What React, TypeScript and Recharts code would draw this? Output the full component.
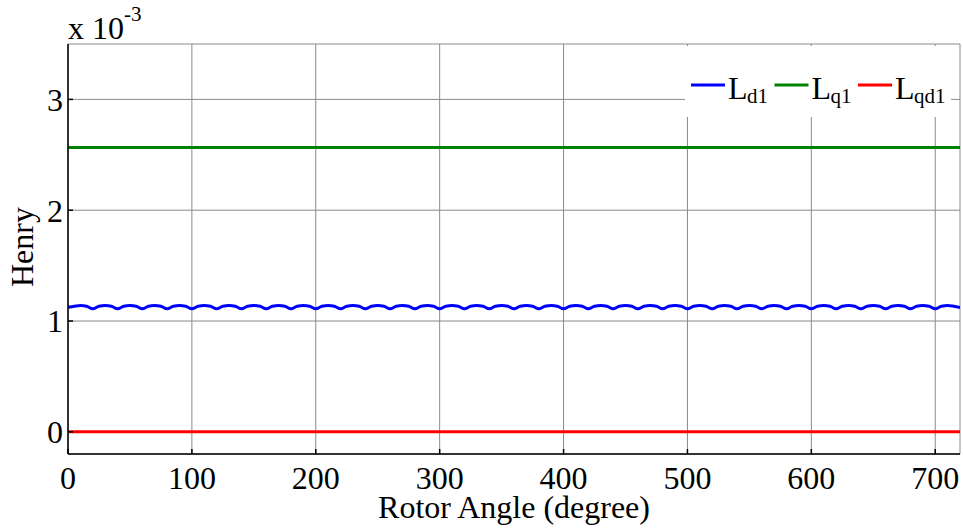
import React from 'react';
import { LineChart, Line, XAxis, YAxis, CartesianGrid, Legend, Label } from 'recharts';

// Rotor angle samples (degree) for L_d1
const ldAngles = [
  0, 5, 10, 15, 20, 25, 30, 35, 40, 45, 50, 55, 60, 65, 70, 75, 80, 85, 90, 95,
  100, 105, 110, 115, 120, 125, 130, 135, 140, 145, 150, 155, 160, 165, 170, 175, 180, 185, 190, 195,
  200, 205, 210, 215, 220, 225, 230, 235, 240, 245, 250, 255, 260, 265, 270, 275, 280, 285, 290, 295,
  300, 305, 310, 315, 320, 325, 330, 335, 340, 345, 350, 355, 360, 365, 370, 375, 380, 385, 390, 395,
  400, 405, 410, 415, 420, 425, 430, 435, 440, 445, 450, 455, 460, 465, 470, 475, 480, 485, 490, 495,
  500, 505, 510, 515, 520, 525, 530, 535, 540, 545, 550, 555, 560, 565, 570, 575, 580, 585, 590, 595,
  600, 605, 610, 615, 620, 625, 630, 635, 640, 645, 650, 655, 660, 665, 670, 675, 680, 685, 690, 695,
  700, 705, 710, 715, 720,
];
// L_d1 values (x 10^-3 Henry)
const ldValues = [
  1.124, 1.133, 1.140, 1.133, 1.110, 1.133, 1.140, 1.133, 1.110, 1.133, 1.140, 1.133, 1.110, 1.133, 1.140, 1.133, 1.110, 1.133, 1.140, 1.133,
  1.110, 1.133, 1.140, 1.133, 1.110, 1.133, 1.140, 1.133, 1.110, 1.133, 1.140, 1.133, 1.110, 1.133, 1.140, 1.133, 1.110, 1.133, 1.140, 1.133,
  1.110, 1.133, 1.140, 1.133, 1.110, 1.133, 1.140, 1.133, 1.110, 1.133, 1.140, 1.133, 1.110, 1.133, 1.140, 1.133, 1.110, 1.133, 1.140, 1.133,
  1.110, 1.133, 1.140, 1.133, 1.110, 1.133, 1.140, 1.133, 1.110, 1.133, 1.140, 1.133, 1.110, 1.133, 1.140, 1.133, 1.110, 1.133, 1.140, 1.133,
  1.110, 1.133, 1.140, 1.133, 1.110, 1.133, 1.140, 1.133, 1.110, 1.133, 1.140, 1.133, 1.110, 1.133, 1.140, 1.133, 1.110, 1.133, 1.140, 1.133,
  1.110, 1.133, 1.140, 1.133, 1.110, 1.133, 1.140, 1.133, 1.110, 1.133, 1.140, 1.133, 1.110, 1.133, 1.140, 1.133, 1.110, 1.133, 1.140, 1.133,
  1.110, 1.133, 1.140, 1.133, 1.110, 1.133, 1.140, 1.133, 1.110, 1.133, 1.140, 1.133, 1.110, 1.133, 1.140, 1.133, 1.110, 1.133, 1.140, 1.133,
  1.110, 1.133, 1.140, 1.133, 1.122,
];
// L_q1 and L_qd1 are flat over the whole range
const flatAngles = [0, 720];
const lqValues = [2.565, 2.565];
const lqdValues = [0, 0];

const xTicks = [0, 100, 200, 300, 400, 500, 600, 700];
const yTicks = [0, 1, 2, 3];
const seriesMain = ['L', 'L', 'L'];
const seriesSub = ['d1', 'q1', 'qd1'];
const seriesColors = ['#0000ff', '#008000', '#ff0000'];

const FONT = "'Liberation Serif', 'Times New Roman', serif";

const ldData = ldAngles.map((a, i) => ({ angle: a, v: ldValues[i] }));
const lqData = flatAngles.map((a, i) => ({ angle: a, v: lqValues[i] }));
const lqdData = flatAngles.map((a, i) => ({ angle: a, v: lqdValues[i] }));

const renderLegend = (props: any) => {
  const payload = props.payload || [];
  return (
    <div style={{ background: '#fff', width: 266, height: 71 }}>
      <svg width={266} height={71} style={{ display: 'block' }}>
        {payload.map((p: any, i: number) => {
          const ox = i * 83.5;
          const idx = seriesSub.indexOf(String(p.value).split('_')[1]);
          return (
            <g key={i}>
              <line x1={ox + 6} x2={ox + 40} y1={39} y2={39} stroke={p.color} strokeWidth={3} />
              <text x={ox + 43} y={53} fontFamily={FONT} fontSize={32} fill="#000">
                {seriesMain[idx]}
              </text>
              <text x={ox + 62} y={57} fontFamily={FONT} fontSize={21} fill="#000">
                {seriesSub[idx]}
              </text>
            </g>
          );
        })}
      </svg>
    </div>
  );
};

const yLabel = () => (
  <g>
    <text
      x={33}
      y={247}
      transform="rotate(-90, 33, 247)"
      textAnchor="middle"
      fontFamily={FONT}
      fontSize={32}
      fill="#000"
    >
      Henry
    </text>
    <text x={68} y={39} fontFamily={FONT} fontSize={32} fill="#000">
      x 10
    </text>
    <text x={124} y={21} fontFamily={FONT} fontSize={21} fill="#000">
      -3
    </text>
  </g>
);

const xLabel = () => (
  <text x={514} y={518} textAnchor="middle" fontFamily={FONT} fontSize={32} fill="#000">
    Rotor Angle (degree)
  </text>
);

export default function App() {
  const tickStyle = { fill: '#000', fontSize: 32, fontFamily: FONT };
  return (
    <div style={{ position: 'absolute', left: 0, top: 0, width: 963, height: 529, background: '#fff' }}>
      <LineChart width={963} height={529} margin={{ top: 44, right: 3, bottom: 0, left: 0 }}>
        <CartesianGrid stroke="#8a8a8a" strokeWidth={1} />
        <XAxis
          xAxisId={0}
          dataKey="angle"
          type="number"
          domain={[0, 720]}
          ticks={xTicks}
          allowDataOverflow
          height={75}
          stroke="#000"
          strokeWidth={1.5}
          tickSize={-5}
          tickMargin={17}
          tick={tickStyle}
        >
          <Label content={xLabel} />
        </XAxis>
        <XAxis
          xAxisId="top"
          orientation="top"
          dataKey="angle"
          type="number"
          domain={[0, 720]}
          ticks={xTicks}
          height={0}
          stroke="#000"
          strokeWidth={1.5}
          tickSize={-5}
          tickFormatter={() => ''}
        />
        <YAxis
          yAxisId={0}
          type="number"
          domain={[-0.2, 3.5]}
          ticks={yTicks}
          allowDataOverflow
          width={68}
          stroke="#000"
          strokeWidth={1.5}
          tickSize={-5}
          tickMargin={10}
          tick={tickStyle}
        >
          <Label content={yLabel} />
        </YAxis>
        <YAxis
          yAxisId="right"
          orientation="right"
          type="number"
          domain={[-0.2, 3.5]}
          ticks={yTicks}
          width={0}
          stroke="#000"
          strokeWidth={1.5}
          tickSize={-5}
          tickFormatter={() => ''}
        />
        <Legend
          layout="horizontal"
          verticalAlign="middle"
          align="center"
          content={renderLegend}
          wrapperStyle={{ position: 'absolute', left: 685, top: 46, width: 266, height: 71 }}
        />
        <Line
          data={ldData}
          dataKey="v"
          name="L_d1"
          type="monotone"
          stroke={seriesColors[0]}
          strokeWidth={3}
          dot={false}
          isAnimationActive={false}
        />
        <Line
          data={lqData}
          dataKey="v"
          name="L_q1"
          type="linear"
          stroke={seriesColors[1]}
          strokeWidth={3}
          dot={false}
          isAnimationActive={false}
        />
        <Line
          data={lqdData}
          dataKey="v"
          name="L_qd1"
          type="linear"
          stroke={seriesColors[2]}
          strokeWidth={3}
          dot={false}
          isAnimationActive={false}
        />
      </LineChart>
    </div>
  );
}
